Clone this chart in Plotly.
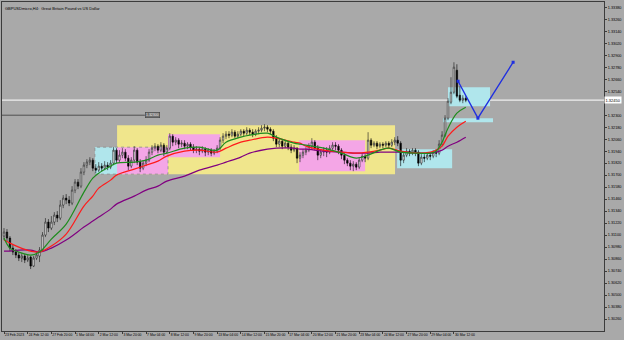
import plotly.graph_objects as go

# ---------------- data ----------------
bars = list(range(157))
opens = [1.3109,1.3113,1.3107,1.3097,1.3093,1.3090,1.3087,1.3089,1.3085,1.3088,
1.3079,1.3087,1.3089,1.3095,1.3110,1.3123,1.3117,1.3123,1.3130,1.3127,
1.3140,1.3147,1.3145,1.3142,1.3155,1.3163,1.3159,1.3173,1.3180,1.3183,
1.3185,1.3177,1.3175,1.3179,1.3177,1.3180,1.3178,1.3182,1.3195,1.3185,
1.3190,1.3193,1.3187,1.3179,1.3185,1.3195,1.3183,1.3177,1.3182,1.3185,
1.3193,1.3197,1.3199,1.3195,1.3200,1.3193,1.3197,1.3209,1.3203,1.3205,
1.3201,1.3202,1.3199,1.3201,1.3198,1.3195,1.3196,1.3194,1.3196,1.3193,
1.3195,1.3192,1.3194,1.3197,1.3205,1.3209,1.3211,1.3210,1.3213,1.3209,
1.3211,1.3214,1.3212,1.3215,1.3213,1.3211,1.3214,1.3215,1.3217,1.3218,
1.3216,1.3214,1.3207,1.3201,1.3204,1.3199,1.3202,1.3198,1.3195,1.3197,
1.3187,1.3190,1.3193,1.3195,1.3199,1.3203,1.3197,1.3190,1.3193,1.3195,
1.3193,1.3197,1.3200,1.3199,1.3195,1.3190,1.3185,1.3182,1.3179,1.3181,
1.3178,1.3185,1.3189,1.3187,1.3205,1.3200,1.3202,1.3199,1.3201,1.3200,
1.3202,1.3200,1.3203,1.3205,1.3202,1.3185,1.3190,1.3194,1.3192,1.3195,
1.3193,1.3182,1.3188,1.3187,1.3190,1.3189,1.3193,1.3192,1.3201,1.3210,
1.3227,1.3243,1.3253,1.3275,1.3250,1.3245,1.3247]
highs = [1.3117,1.3116,1.3109,1.3100,1.3096,1.3093,1.3092,1.3091,1.3090,1.3089,
1.3089,1.3093,1.3098,1.3113,1.3127,1.3126,1.3129,1.3133,1.3134,1.3145,
1.3150,1.3151,1.3149,1.3159,1.3166,1.3166,1.3177,1.3183,1.3186,1.3188,
1.3187,1.3181,1.3183,1.3182,1.3184,1.3183,1.3185,1.3198,1.3197,1.3195,
1.3197,1.3196,1.3190,1.3188,1.3199,1.3197,1.3186,1.3185,1.3189,1.3196,
1.3200,1.3202,1.3201,1.3203,1.3202,1.3200,1.3212,1.3211,1.3208,1.3207,
1.3205,1.3205,1.3203,1.3203,1.3201,1.3199,1.3198,1.3199,1.3198,1.3197,
1.3197,1.3196,1.3200,1.3208,1.3212,1.3214,1.3214,1.3216,1.3215,1.3214,
1.3216,1.3216,1.3218,1.3217,1.3216,1.3216,1.3218,1.3220,1.3221,1.3220,
1.3218,1.3216,1.3210,1.3207,1.3206,1.3205,1.3204,1.3201,1.3200,1.3198,
1.3193,1.3196,1.3198,1.3202,1.3207,1.3205,1.3200,1.3196,1.3198,1.3198,
1.3200,1.3203,1.3203,1.3201,1.3197,1.3192,1.3187,1.3185,1.3184,1.3183,
1.3188,1.3192,1.3191,1.3213,1.3207,1.3204,1.3204,1.3203,1.3203,1.3204,
1.3204,1.3206,1.3208,1.3209,1.3204,1.3193,1.3197,1.3196,1.3197,1.3197,
1.3195,1.3191,1.3191,1.3193,1.3193,1.3195,1.3196,1.3205,1.3214,1.3230,
1.3247,1.3268,1.3283,1.3281,1.3259,1.3250,1.3249]
lows = [1.3105,1.3104,1.3094,1.3090,1.3087,1.3084,1.3083,1.3082,1.3083,1.3076,
1.3078,1.3085,1.3083,1.3093,1.3108,1.3113,1.3115,1.3120,1.3123,1.3125,
1.3137,1.3141,1.3139,1.3140,1.3152,1.3156,1.3157,1.3170,1.3177,1.3180,
1.3174,1.3172,1.3173,1.3174,1.3175,1.3175,1.3176,1.3180,1.3182,1.3183,
1.3187,1.3184,1.3175,1.3177,1.3182,1.3180,1.3173,1.3175,1.3179,1.3183,
1.3190,1.3194,1.3192,1.3193,1.3189,1.3191,1.3195,1.3199,1.3200,1.3197,
1.3198,1.3196,1.3196,1.3195,1.3192,1.3192,1.3190,1.3192,1.3189,1.3190,
1.3189,1.3190,1.3192,1.3195,1.3202,1.3206,1.3207,1.3208,1.3207,1.3207,
1.3209,1.3209,1.3210,1.3210,1.3208,1.3209,1.3211,1.3213,1.3214,1.3213,
1.3211,1.3204,1.3198,1.3198,1.3196,1.3197,1.3195,1.3192,1.3193,1.3182,
1.3183,1.3187,1.3190,1.3193,1.3196,1.3195,1.3185,1.3187,1.3189,1.3188,
1.3191,1.3194,1.3195,1.3191,1.3186,1.3181,1.3179,1.3175,1.3174,1.3175,
1.3176,1.3183,1.3183,1.3185,1.3197,1.3198,1.3196,1.3197,1.3197,1.3198,
1.3197,1.3198,1.3200,1.3199,1.3179,1.3182,1.3188,1.3189,1.3190,1.3189,
1.3179,1.3180,1.3183,1.3185,1.3185,1.3187,1.3188,1.3190,1.3199,1.3208,
1.3225,1.3241,1.3251,1.3247,1.3243,1.3242,1.3243]
closes = [1.3113,1.3107,1.3097,1.3093,1.3090,1.3087,1.3089,1.3085,1.3087,1.3079,
1.3087,1.3090,1.3095,1.3110,1.3123,1.3117,1.3123,1.3130,1.3127,1.3140,
1.3147,1.3145,1.3142,1.3155,1.3163,1.3159,1.3173,1.3180,1.3183,1.3185,
1.3177,1.3175,1.3179,1.3177,1.3180,1.3178,1.3182,1.3195,1.3185,1.3190,
1.3193,1.3187,1.3179,1.3185,1.3195,1.3183,1.3177,1.3182,1.3185,1.3193,
1.3197,1.3199,1.3195,1.3200,1.3193,1.3197,1.3209,1.3203,1.3205,1.3201,
1.3202,1.3199,1.3201,1.3198,1.3195,1.3196,1.3194,1.3196,1.3193,1.3195,
1.3192,1.3194,1.3197,1.3205,1.3209,1.3211,1.3210,1.3213,1.3209,1.3211,
1.3214,1.3212,1.3215,1.3213,1.3211,1.3214,1.3215,1.3217,1.3218,1.3216,
1.3214,1.3207,1.3201,1.3204,1.3199,1.3202,1.3198,1.3195,1.3197,1.3187,
1.3190,1.3193,1.3195,1.3199,1.3203,1.3197,1.3190,1.3193,1.3195,1.3193,
1.3197,1.3200,1.3199,1.3195,1.3190,1.3185,1.3182,1.3179,1.3181,1.3178,
1.3185,1.3189,1.3187,1.3205,1.3200,1.3202,1.3199,1.3201,1.3200,1.3202,
1.3200,1.3203,1.3205,1.3202,1.3185,1.3190,1.3194,1.3192,1.3195,1.3193,
1.3182,1.3188,1.3187,1.3190,1.3189,1.3193,1.3192,1.3201,1.3210,1.3227,
1.3244,1.3253,1.3278,1.3249,1.3245,1.3247,1.3245]

ma_bars = [0,2,5,9,12,16,21,27,30,32,36,38,44,48,52,55,61,66,72,75,80,83,89,92,
           98,100,102,108,114,119,123,127,130,134,140,144,146,148,150,153,156]
ma_fast = [1.3107,1.3097,1.3093,1.3090,1.3093,1.3106,1.3121,1.3153,1.3167,1.3172,
           1.3179,1.3182,1.3183,1.3185,1.3190,1.3192,1.3197,1.3198,1.3195,1.3203,
           1.3208,1.3210,1.3212,1.3208,1.3202,1.3201,1.3200,1.3197,1.3192,1.3187,
           1.3190,1.3195,1.3197,1.3193,1.3192,1.3192,1.3194,1.3203,1.3217,1.3232,1.3238]
ma_mid = [1.3105,1.3102,1.3098,1.3094,1.3093,1.3099,1.3111,1.3139,1.3149,1.3157,
          1.3165,1.3170,1.3176,1.3180,1.3184,1.3189,1.3194,1.3195,1.3193,1.3197,
          1.3203,1.3205,1.3208,1.3207,1.3203,1.3202,1.3199,1.3195,1.3193,1.3192,
          1.3193,1.3195,1.3197,1.3194,1.3192,1.3193,1.3195,1.3199,1.3209,1.3218,1.3224]
ma_slow = [1.3094,1.3094,1.3095,1.3095,1.3093,1.3097,1.3105,1.3118,1.3124,1.3128,
           1.3136,1.3141,1.3149,1.3155,1.3159,1.3164,1.3169,1.3175,1.3180,1.3183,
           1.3188,1.3192,1.3196,1.3197,1.3197,1.3196,1.3196,1.3194,1.3193,1.3192,
           1.3192,1.3193,1.3193,1.3193,1.3192,1.3192,1.3193,1.3195,1.3199,1.3203,1.3208]

tick_bars = [0,8,16,24,32,40,48,56,64,72,80,88,96,104,112,120,128,136,144,152]
tick_labels = ["23 Feb 2023","24 Feb 12:00","27 Feb 20:00","1 Mar 04:00","2 Mar 12:00",
               "3 Mar 20:00","7 Mar 04:00","8 Mar 12:00","9 Mar 20:00","13 Mar 04:00",
               "14 Mar 12:00","15 Mar 20:00","17 Mar 04:00","20 Mar 12:00","21 Mar 20:00",
               "23 Mar 04:00","24 Mar 12:00","27 Mar 20:00","29 Mar 04:00","30 Mar 12:00"]
price_ticks = [1.3338,1.3326,1.3314,1.3302,1.3290,1.3278,1.3266,1.3254,
               1.3230,1.3218,1.3206,1.3194,1.3182,1.3170,1.3158,1.3146,1.3134,
               1.3122,1.3110,1.3098,1.3086,1.3074,1.3062,1.3050,1.3038,1.3026]

# zones: (start bar, end bar, top price, bottom price, kind)
zones = [
    (38.2, 132.1, 1.3220, 1.3171, "yellow"),
    (30.7, 38.2, 1.3198, 1.3171, "cyan"),
    (38.2, 55.4, 1.3198, 1.3171, "pink"),
    (55.4, 73.0, 1.3211, 1.3188, "pink"),
    (99.7, 122.0, 1.3205, 1.3174, "pink"),
    (132.8, 151.4, 1.3196, 1.3177, "cyan"),
    (150.0, 164.2, 1.3258, 1.3239, "cyan"),
    (148.3, 165.2, 1.3227, 1.3223, "cyan"),
]
path_bars = [153.4, 160.1, 172.0]
path_prices = [1.3264, 1.3227, 1.3283]
level_price = 1.3230
level_end_bar = 47.6
bid_price = 1.3245
title_text = "GBPUSDmicro,H4:  Great Britain Pound vs US Dollar"

# ---------------- figure ----------------
BG = "#A9A9A9"
colors = {"yellow": "#F0E68C", "pink": "#F4A6E6", "cyan": "#B0E6EC"}
FONT = "Liberation Sans"

fig = go.Figure()

shapes = []
for x0, x1, top, bot, kind in zones:
    shapes.append(dict(type="rect", xref="x", yref="y", x0=x0, x1=x1, y0=bot, y1=top,
                       fillcolor=colors[kind], line=dict(width=0), layer="below"))
shapes.append(dict(type="rect", xref="x", yref="y", x0=30.7, x1=55.4, y0=1.3171, y1=1.3198,
                   line=dict(color="#8a8a8a", width=0.8, dash="dot"), layer="below"))
shapes.append(dict(type="line", xref="paper", yref="y", x0=0, x1=1, y0=bid_price, y1=bid_price,
                   line=dict(color="#EFEFEF", width=1.2), layer="below"))
shapes.append(dict(type="line", xref="x", yref="y", x0=-0.7, x1=level_end_bar, y0=level_price,
                   y1=level_price, line=dict(color="#505050", width=1), layer="below"))

fig.add_trace(go.Candlestick(
    x=bars, open=opens, high=highs, low=lows, close=closes,
    increasing=dict(fillcolor="#FFFFFF", line=dict(color="#1a1a1a", width=0.6)),
    decreasing=dict(fillcolor="#000000", line=dict(color="#000000", width=0.6)),
    whiskerwidth=0, hoverinfo="skip", showlegend=False))

for vals, col in [(ma_slow, "#800080"), (ma_mid, "#FF1A1A"), (ma_fast, "#1E8C1E")]:
    fig.add_trace(go.Scatter(x=ma_bars, y=vals, mode="lines", line=dict(color=col, width=1.2, shape="spline"),
                             hoverinfo="skip", showlegend=False))

fig.add_trace(go.Scatter(x=path_bars, y=path_prices, mode="lines+markers",
                         line=dict(color="#1F2FE0", width=1.4),
                         marker=dict(size=3, color="#1F2FE0", symbol="square"),
                         hoverinfo="skip", showlegend=False))

annotations = [
    dict(xref="paper", yref="paper", x=0.002, y=0.995, xanchor="left", yanchor="top",
         text=title_text, showarrow=False, font=dict(size=4, color="#000000", family=FONT)),
    dict(xref="paper", yref="y", x=1.0, y=bid_price, xanchor="left", yanchor="middle",
         text="1.32450", showarrow=False, bgcolor="#FFFFFF", borderpad=0.5,
         font=dict(size=4, color="#000000", family=FONT)),
    dict(xref="x", yref="y", x=level_end_bar, y=level_price, xanchor="left", yanchor="middle",
         text="1.32300", showarrow=False, bgcolor="#707070", bordercolor="#3a3a3a",
         borderwidth=0.5, borderpad=0.5, font=dict(size=3.5, color="#EEEEEE", family=FONT)),
]

fig.update_layout(
    width=624, height=340,
    margin=dict(l=2, r=20, t=2, b=9, autoexpand=False),
    paper_bgcolor=BG, plot_bgcolor=BG,
    shapes=shapes, annotations=annotations,
    showlegend=False,
    font=dict(family=FONT, size=4, color="#000000"),
    xaxis=dict(range=[-0.68, 202.7], rangeslider=dict(visible=False), showgrid=False,
               zeroline=False, showline=True, linecolor="#3c3c3c", linewidth=1, mirror=True,
               tickmode="array", tickvals=tick_bars, ticktext=tick_labels, tickangle=0,
               ticks="outside", ticklen=2, tickcolor="#3c3c3c", automargin=False,
               ticklabelposition="outside right", tickfont=dict(size=3.4, color="#000000")),
    yaxis=dict(range=[1.3014, 1.33433], side="right", showgrid=False, zeroline=False,
               showline=True, linecolor="#3c3c3c", linewidth=1, mirror=True,
               tickmode="array", tickvals=price_ticks, tickformat=".5f", automargin=False,
               ticks="outside", ticklen=2, tickcolor="#3c3c3c",
               tickfont=dict(size=3.8, color="#000000")),
)

fig.write_html("out.html", config={"displayModeBar": False})
